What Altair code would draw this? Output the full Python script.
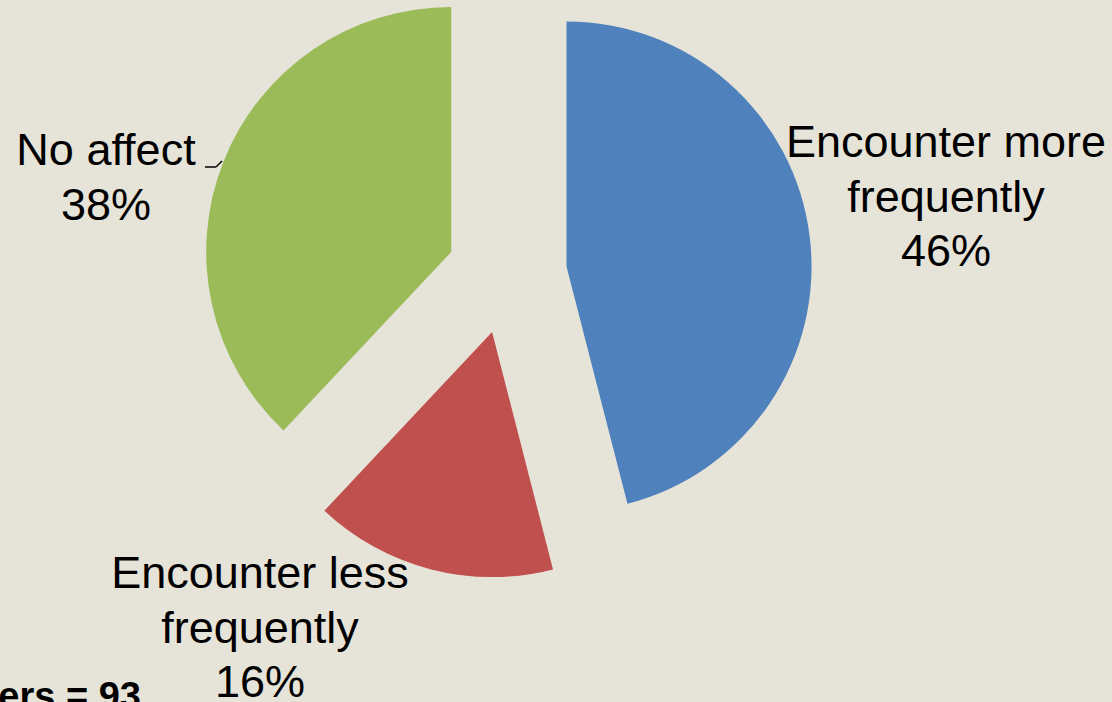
import altair as alt
import pandas as pd

# ---- data ----
categories = ["Encounter more frequently", "Encounter less frequently", "No affect"]
percents = [46, 16, 38]
colors = ["#4F81BD", "#C0504D", "#9BBB59"]
label_lines = [
    "Encounter more\nfrequently\n46%",
    "Encounter less\nfrequently\n16%",
    "No affect\n38%",
]
note_text = "ers = 93"

df = pd.DataFrame({
    "category": categories,
    "value": percents,
    "order": list(range(len(categories))),
})

# ---- layout constants ----
W, H = 1112, 702
CX, CY = 507, 274      # pie centre
EXPLODE = 60           # explosion distance
R = 245                # pie radius
FONT = "Liberation Sans"
BG = "#E6E3D8"

base = alt.Chart(df).transform_joinaggregate(
    total="sum(value)"
).transform_window(
    cum="sum(value)", sort=[alt.SortField("order")], frame=[None, 0]
).transform_calculate(
    t1="datum.cum / datum.total * 2 * PI",
    t0="(datum.cum - datum.value) / datum.total * 2 * PI",
).transform_calculate(
    mid="(datum.t0 + datum.t1) / 2"
).transform_calculate(
    px=f"{CX} + {EXPLODE} * sin(datum.mid)",
    py=f"{CY} - {EXPLODE} * cos(datum.mid)",
)

pie = base.mark_arc(outerRadius=R, stroke=None).encode(
    x=alt.X("px:Q", scale=None, axis=None),
    y=alt.Y("py:Q", scale=None, axis=None),
    theta=alt.Theta("t0:Q", scale=None),
    theta2=alt.Theta2("t1:Q"),
    color=alt.Color("category:N",
                    scale=alt.Scale(domain=categories, range=colors),
                    legend=None),
)

def label(i, x, y):
    return alt.Chart(pd.DataFrame({"t": [label_lines[i]]})).mark_text(
        font=FONT, fontSize=45, color="black", align="center",
        baseline="alphabetic", lineBreak="\n", lineHeight=54.5,
    ).encode(text="t:N", x=alt.value(x), y=alt.value(y))

lbl_more = label(0, 946, 157)
lbl_less = label(1, 260, 588)
lbl_none = label(2, 106, 165)

note = alt.Chart(pd.DataFrame({"t": [note_text]})).mark_text(
    font=FONT, fontSize=38, fontWeight="bold", color="black",
    align="right", baseline="alphabetic",
).encode(text="t:N", x=alt.value(141), y=alt.value(709))

leader1 = alt.Chart(pd.DataFrame({"a": [0]})).mark_rule(
    color="black", strokeWidth=1.5
).encode(x=alt.value(205), x2=alt.value(216), y=alt.value(167), y2=alt.value(167))
leader2 = alt.Chart(pd.DataFrame({"a": [0]})).mark_rule(
    color="black", strokeWidth=1.5
).encode(x=alt.value(216), x2=alt.value(222), y=alt.value(167), y2=alt.value(161))

chart = alt.layer(pie, lbl_more, lbl_less, lbl_none, note, leader1, leader2).properties(
    width=W, height=H, autosize="none", padding=0, background=BG,
).configure_view(stroke=None)

chart.save("out.html", embed_options={"renderer": "svg", "actions": False})
